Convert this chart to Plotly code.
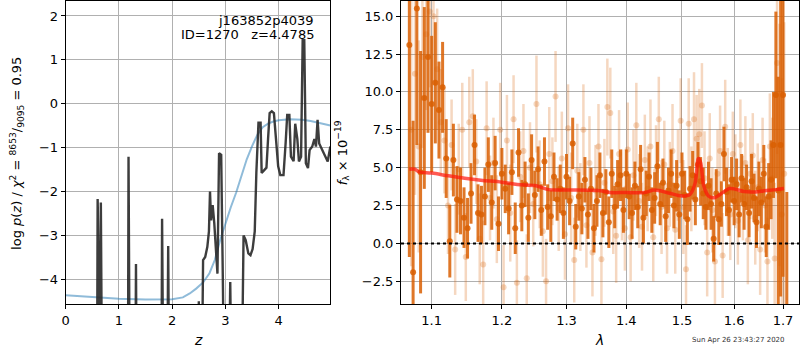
import numpy as np
import plotly.graph_objects as go

# ---------------- left panel: p(z) ----------------
pz_z = [0.00, 0.59, 0.60, 0.62, 0.65, 0.66, 0.68, 1.17, 1.18, 1.20, 1.31, 1.32, 1.33,
        1.80, 1.81, 1.83, 1.91, 1.925, 1.94, 2.49, 2.50, 2.51, 2.56, 2.58, 2.62, 2.66,
        2.69, 2.71, 2.73, 2.76, 2.79, 2.82, 2.85, 2.88, 2.92, 2.95, 2.97, 3.07, 3.09,
        3.11, 3.31, 3.34, 3.38, 3.43, 3.47, 3.51, 3.55, 3.58, 3.62, 3.66, 3.68, 3.72,
        3.77, 3.80, 3.83, 3.87, 3.91, 3.95, 3.99, 4.03, 4.09, 4.13, 4.16, 4.20, 4.23,
        4.28, 4.31, 4.35, 4.38, 4.42, 4.45, 4.48, 4.51, 4.55, 4.58, 4.63, 4.67, 4.70,
        4.73, 4.76, 4.81, 4.88, 4.92, 4.97]
pz_logp = [-6, -6, -2.16, -6, -6, -2.24, -6, -6, -1.2, -6, -6, -3.64, -6,
           -6, -2.61, -6, -6, -3.23, -6, -6, -4.49, -6, -6, -3.55, -3.48, -3.25,
           -2.9, -1.99, -2.65, -2.3, -2.71, -3.25, -3.86, -1.12, -1.16, -3.9, -6, -6, -4.05,
           -6, -6, -2.99, -3.1, -3.4, -3.44, -3.3, -2.9, -1.57, -0.43, -0.43, -1.57, -1.52,
           -1.45, -0.8, -0.21, -0.17, -0.21, -0.81, -1.42, -1.62, -1.62, -0.89, -0.25, -0.25, -1.2,
           -1.3, -0.45, -0.8, -1.31, -1.2, 1.45, 1.45, -1.35, -1.46, -1.05, -0.97, -0.8, -0.97,
           -0.36, -0.9, -1.04, -1.2, -1.31, -0.97]

prior_z = [0.0, 0.5, 1.0, 1.5, 2.0, 2.2, 2.33, 2.45, 2.58, 2.7, 2.8, 2.9, 3.0, 3.1, 3.2,
           3.3, 3.4, 3.5, 3.6, 3.7, 3.8, 3.9, 4.0, 4.2, 4.44, 4.6, 4.75, 4.97]
prior_logp = [-4.35, -4.39, -4.43, -4.45, -4.44, -4.40, -4.31, -4.20, -4.06, -3.85, -3.55,
              -3.10, -2.72, -2.35, -2.02, -1.62, -1.26, -0.96, -0.70, -0.53, -0.45, -0.40,
              -0.37, -0.35, -0.36, -0.39, -0.43, -0.49]

obj_name = "j163852p4039"
obj_id = 1270
obj_z = 4.4785
chi2_num, chi2_den, chi2_red = 8653, 9095, 0.95

# ---------------- right panel: spectrum ----------------
lam_a = [1.070, 1.075, 1.080, 1.085, 1.090, 1.095, 1.100, 1.105, 1.110, 1.115, 1.120, 1.125,
         1.130, 1.135, 1.140, 1.145, 1.150, 1.155, 1.160, 1.165, 1.170, 1.175, 1.180, 1.185,
         1.190, 1.195, 1.200, 1.205, 1.210, 1.215, 1.220, 1.225, 1.230, 1.235, 1.240, 1.245,
         1.250, 1.255, 1.260, 1.265, 1.270, 1.275, 1.280, 1.285, 1.290, 1.295, 1.300, 1.305,
         1.310, 1.315, 1.320, 1.325, 1.330, 1.335, 1.340, 1.345, 1.350, 1.355, 1.360, 1.365,
         1.370, 1.375, 1.380, 1.385, 1.390, 1.395, 1.400, 1.405, 1.410, 1.415, 1.420, 1.425,
         1.430, 1.435, 1.440, 1.445, 1.450, 1.455, 1.460, 1.465, 1.470, 1.475, 1.480, 1.485,
         1.490, 1.495, 1.500, 1.505, 1.510, 1.515, 1.520, 1.525, 1.530, 1.535, 1.540, 1.545,
         1.550, 1.555, 1.560, 1.565, 1.570, 1.575, 1.580, 1.585, 1.590, 1.595, 1.600, 1.605,
         1.610, 1.615, 1.620, 1.625, 1.630, 1.635, 1.640, 1.645, 1.650, 1.655, 1.660, 1.665,
         1.670, 1.675, 1.680, 1.685, 1.690, 1.695, 1.700, 1.708]
flux_a = [13.1, -1.9, 15.5, 4.7, 9.6, 12.3, 9.2, 10.6, 8.8, 10.3, 5.6, 0.15,
          5.5, 2.9, 2.8, 1.7, 1.0, 3.3, 6.5, 2.0, 1.9, 3.1, 5.2, 2.7,
          5.3, 1.3, 4.6, 3.6, 2.3, 4.7, 1.0, 6.0, 2.5, 3.9, 1.7, 5.5,
          3.2, 4.9, 2.2, 5.4, 2.4, 1.8, 4.4, 2.9, 3.6, 2.0, 4.4, 2.8,
          6.6, 1.1, 3.1, 2.3, 4.2, 1.9, 3.6, 1.0, 2.8, 4.5, 2.0, 3.4,
          1.4, 4.6, 2.4, 3.9, 4.5, 2.2, 4.6, 3.1, 2.0, 3.8, 2.4, 4.9,
          1.7, 3.3, 4.4, 2.2, 3.0, 5.1, 2.6, 4.0, 1.8, 3.5, 4.6, 2.5,
          3.8, 1.9, 4.6, 3.2, 1.6, 3.6, 4.5, 2.9, 5.2, 4.1, 3.3, 2.4,
          3.8, 2.6, 0.3, 3.3, 1.6, 2.6, 5.9, 3.4, 2.2, 4.2, 2.8, 3.9,
          1.9, 4.3, 2.6, 3.7, 2.0, 4.1, 3.0, 1.4, 3.6, 2.7, 4.6, 1.1,
          3.1, 4.2, 6.5, 9.8, 3.5, 6.5, 9.8, -6.0]
err_a = [14.0, 10.0, 9.0, 8.0, 6.0, 5.0, 4.5, 4.0, 3.2, 3.0, 2.6, 2.4,
         2.4, 2.2, 2.2, 2.0, 2.0, 2.0, 2.0, 1.9, 1.9, 1.9, 1.8, 1.8,
         1.8, 1.8, 1.7, 1.6, 1.7, 1.5, 1.7, 1.6, 1.7, 1.5, 1.6, 1.7,
         1.6, 1.5, 1.7, 1.6, 1.5, 1.7, 1.6, 1.4, 1.6, 1.7, 1.5, 1.6,
         1.7, 1.5, 1.6, 1.7, 1.5, 1.6, 1.4, 1.6, 1.7, 1.5, 1.6, 1.5,
         1.7, 1.6, 1.4, 1.6, 1.7, 1.5, 1.6, 1.5, 1.7, 1.6, 1.4, 1.6,
         1.7, 1.5, 1.6, 1.5, 1.7, 1.6, 1.4, 1.6, 1.7, 1.5, 1.6, 1.5,
         1.7, 1.6, 1.4, 1.6, 1.7, 1.5, 1.6, 1.7, 1.5, 1.6, 1.7, 1.5,
         1.6, 1.7, 1.5, 1.6, 1.7, 1.5, 1.8, 1.6, 1.7, 1.5, 1.6, 1.7,
         1.5, 1.6, 1.7, 1.5, 1.6, 1.8, 1.6, 1.7, 1.8, 1.7, 1.9, 2.0,
         2.2, 2.6, 3.5, 5.5, 7.5, 10.0, 12.0, 9.4]

lam_b = [1.0725, 1.0775, 1.0825, 1.0875, 1.0925, 1.0975, 1.1025, 1.1075, 1.1125, 1.1175,
         1.1225, 1.1275, 1.1325, 1.1375, 1.1425, 1.1475, 1.1525, 1.1575, 1.1625, 1.1675,
         1.1725, 1.1775, 1.1825, 1.1875, 1.1925, 1.1975, 1.2025, 1.2075, 1.2125, 1.2175,
         1.2225, 1.2275, 1.2325, 1.2375, 1.2425, 1.2475, 1.2525, 1.2575, 1.2625, 1.2675,
         1.2725, 1.2775, 1.2825, 1.2875, 1.2925, 1.2975, 1.3025, 1.3075, 1.3125, 1.3175,
         1.3225, 1.3275, 1.3325, 1.3375, 1.3425, 1.3475, 1.3525, 1.3575, 1.3625, 1.3675,
         1.3725, 1.3775, 1.3825, 1.3875, 1.3925, 1.3975, 1.4025, 1.4075, 1.4125, 1.4175,
         1.4225, 1.4275, 1.4325, 1.4375, 1.4425, 1.4475, 1.4525, 1.4575, 1.4625, 1.4675,
         1.4725, 1.4775, 1.4825, 1.4875, 1.4925, 1.4975, 1.5025, 1.5075, 1.5125, 1.5175,
         1.5225, 1.5275, 1.5325, 1.5375, 1.5425, 1.5475, 1.5525, 1.5575, 1.5625, 1.5675,
         1.5725, 1.5775, 1.5825, 1.5875, 1.5925, 1.5975, 1.6025, 1.6075, 1.6125, 1.6175,
         1.6225, 1.6275, 1.6325, 1.6375, 1.6425, 1.6475, 1.6525, 1.6575, 1.6625, 1.6675,
         1.6725, 1.6775, 1.6825, 1.6875, 1.6925, 1.6975, 1.7025]
flux_b = [7.5, 11.2, 6.4, 12.3, 13.8, 15.3, 15.0, 11.5, 8.0, 6.8,
          2.5, 6.5, -0.4, 4.9, 7.5, -0.9, 8.0, 8.4, 5.4, 0.3,
          -1.4, 7.6, 3.0, 5.3, 1.6, 7.5, -2.9, 6.8, 2.0, 8.2,
          -2.6, 4.4, 6.1, -2.3, 5.0, 2.6, 9.2, 3.9, 0.8, -2.5,
          5.9, 4.1, 9.7, 2.3, 5.6, 0.6, 7.6, 3.0, -1.1, 4.8,
          2.4, 7.5, 1.2, 5.3, -0.6, 3.5, 6.4, -1.05, 4.0, 9.0,
          8.6, 2.1, 0.5, 5.9, 3.2, 1.0, 6.2, 0.4, 4.5, 7.8,
          2.8, 1.1, 5.5, 3.6, 6.4, 0.4, 4.8, 8.2, 2.4, 5.2,
          1.0, 3.9, 6.1, 0.9, 4.5, 8.1, 2.4, -1.7, 7.9, 3.6,
          8.2, 6.9, 7.2, 9.1, 4.3, -0.6, 5.6, 2.2, -1.2, 4.6,
          6.1, -0.8, 7.7, 3.4, 1.9, 5.9, 4.1, 1.5, 6.5, 3.0,
          5.3, 0.2, 4.6, 5.8, 1.7, 3.7, -0.4, 5.5, 2.5, -1.2,
          6.4, 4.3, -1.0, 11.9, 6.5, 1.9, 4.6]
err_b = [9.0, 8.0, 7.0, 6.0, 5.0, 5.0, 4.5, 4.0, 3.5, 3.5,
         3.2, 3.0, 3.0, 3.0, 3.1, 2.9, 3.0, 3.1, 2.8, 3.0,
         2.9, 3.1, 2.8, 3.0, 2.9, 3.1, 2.8, 3.0, 3.2, 2.9,
         2.8, 3.0, 3.1, 2.9, 3.0, 2.8, 3.2, 2.9, 3.0, 2.8,
         3.1, 2.9, 3.0, 2.8, 3.1, 3.0, 2.9, 3.0, 2.8, 3.1,
         2.9, 3.0, 2.8, 3.1, 2.9, 3.0, 2.8, 3.1, 2.9, 3.2,
         3.0, 2.8, 3.1, 2.9, 3.0, 2.8, 3.1, 2.9, 3.0, 2.8,
         3.1, 2.9, 3.0, 2.8, 3.1, 2.9, 3.0, 2.8, 3.1, 2.9,
         3.0, 2.8, 3.1, 2.9, 3.0, 2.8, 3.1, 2.9, 3.0, 2.8,
         3.1, 2.9, 3.0, 2.8, 3.1, 2.9, 3.0, 2.8, 3.1, 2.9,
         3.0, 2.8, 3.1, 2.9, 3.0, 2.8, 3.1, 2.9, 3.0, 2.8,
         3.1, 2.9, 3.0, 2.8, 3.1, 2.9, 3.0, 2.8, 3.1, 2.9,
         3.5, 4.0, 5.0, 6.0, 8.0, 9.0, 10.0]

model_lam = [1.070, 1.077, 1.083, 1.100, 1.123, 1.146, 1.169, 1.200, 1.223, 1.252, 1.271,
             1.300, 1.352, 1.372, 1.400, 1.432, 1.449, 1.460, 1.477, 1.500, 1.515, 1.524,
             1.531, 1.535, 1.541, 1.550, 1.562, 1.573, 1.591, 1.603, 1.620, 1.643, 1.661,
             1.686, 1.702]
model_flux = [4.90, 4.90, 4.72, 4.64, 4.46, 4.30, 4.17, 4.04, 3.89, 3.80, 3.55,
              3.53, 3.49, 3.36, 3.36, 3.36, 3.53, 3.47, 3.31, 3.13, 3.24, 3.90,
              5.60, 5.34, 3.80, 3.13, 3.02, 3.24, 3.62, 3.58, 3.42, 3.40, 3.47,
              3.55, 3.62]

lam_ticks = [1.1, 1.2, 1.3, 1.4, 1.5, 1.6, 1.7]
lam_ticktext = ["1.1", "1.2", "1.3", "1.4", "1.5", "1.6", "1.7"]
timestamp = "Sun Apr 26 23:43:27 2020"

FONT = "DejaVu Sans"
ORANGE = "rgba(217,95,2,0.85)"
ORANGE_L = "rgba(217,95,2,0.25)"

fig = go.Figure()

# left
fig.add_trace(go.Scatter(x=prior_z, y=prior_logp, mode="lines",
                         line=dict(color="rgba(31,119,180,0.5)", width=2),
                         xaxis="x", yaxis="y", hoverinfo="skip"))
fig.add_trace(go.Scatter(x=pz_z, y=pz_logp, mode="lines",
                         line=dict(color="rgba(40,40,40,0.9)", width=2.4),
                         xaxis="x", yaxis="y", hoverinfo="skip"))

# right
fig.add_trace(go.Scatter(x=lam_b, y=flux_b, mode="markers",
                         marker=dict(color=ORANGE_L, size=6, line=dict(width=0)),
                         error_y=dict(type="data", array=err_b, color=ORANGE_L,
                                      thickness=2.5, width=0),
                         xaxis="x2", yaxis="y2", hoverinfo="skip"))
fig.add_trace(go.Scatter(x=lam_a, y=flux_a, mode="markers",
                         marker=dict(color=ORANGE, size=6, line=dict(width=0)),
                         error_y=dict(type="data", array=err_a, color=ORANGE,
                                      thickness=3, width=0),
                         xaxis="x2", yaxis="y2", hoverinfo="skip"))
fig.add_trace(go.Scatter(x=[1.059, 1.734], y=[0, 0], mode="lines",
                         line=dict(color="black", width=2, dash="dot"),
                         xaxis="x2", yaxis="y2", hoverinfo="skip"))
fig.add_trace(go.Scatter(x=model_lam, y=model_flux, mode="lines",
                         line=dict(color="rgba(255,20,10,0.7)", width=3.5, shape="spline"),
                         xaxis="x2", yaxis="y2", hoverinfo="skip"))

W, H = 800, 350
def px(x): return x / W
def py(y): return 1 - y / H

axis_common = dict(showline=True, linecolor="black", linewidth=1, mirror=True,
                   showgrid=True, gridcolor="#b0b0b0", gridwidth=1, zeroline=False,
                   ticks="outside", ticklen=4, tickcolor="black",
                   tickfont=dict(family=FONT, size=13, color="black"))

fig.update_layout(
    width=W, height=H, margin=dict(l=0, r=0, t=0, b=0),
    paper_bgcolor="white", plot_bgcolor="white", showlegend=False,
    font=dict(family=FONT, color="black"),
    xaxis=dict(domain=[px(62), px(328)], range=[0, 4.97], dtick=1, tick0=0,
               anchor="y", **axis_common),
    yaxis=dict(domain=[py(304), py(1)], range=[-4.55, 2.34], dtick=1, tick0=0,
               anchor="x", **axis_common),
    xaxis2=dict(domain=[px(399), px(799)], type="log",
                range=[np.log10(1.059), np.log10(1.734)],
                tickvals=lam_ticks, ticktext=lam_ticktext, anchor="y2", **axis_common),
    yaxis2=dict(domain=[py(304), py(1)], range=[-4, 16], dtick=2.5, tick0=0,
                tickformat=".1f", anchor="x2", **axis_common),
)

ann = [
    dict(text=obj_name, x=px(314), y=py(20), xanchor="right", yanchor="middle"),
    dict(text=f"ID={obj_id}   z={obj_z:.4f}", x=px(314), y=py(34), xanchor="right", yanchor="middle"),
    dict(text="<i>z</i>", x=px(195), y=py(340), xanchor="center", yanchor="middle", font=dict(size=14)),
    dict(text="<i>λ</i>", x=px(598), y=py(340), xanchor="center", yanchor="middle", font=dict(size=14)),
    dict(text=f"log <i>p</i>(<i>z</i>) / <i>χ</i><sup>2</sup> = <sup>{chi2_num}</sup>/<sub>{chi2_den}</sub> = {chi2_red}",
         x=px(13), y=py(153), textangle=-90, xanchor="center", yanchor="middle"),
    dict(text="<i>f</i><sub>λ</sub> × 10<sup>−19</sup>", x=px(340), y=py(153), textangle=-90,
         xanchor="center", yanchor="middle"),
    dict(text=timestamp, x=px(787), y=py(340), xanchor="right", yanchor="middle",
         font=dict(size=7, color="#333")),
]
for a in ann:
    a.setdefault("font", dict(size=13))
    a["font"].setdefault("family", FONT)
    a["font"].setdefault("color", "black")
    fig.add_annotation(xref="paper", yref="paper", showarrow=False, **a)

fig.write_html("out.html", config={"displayModeBar": False},
               post_script="document.body.style.margin='0';document.body.style.overflow='hidden';")
